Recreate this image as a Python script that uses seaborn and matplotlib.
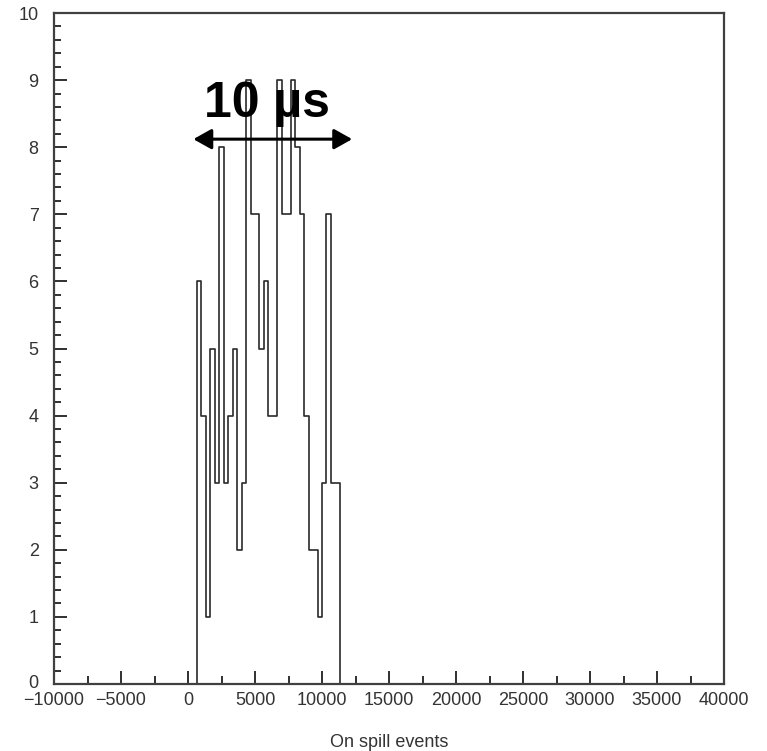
import numpy as np
import pandas as pd
import matplotlib
matplotlib.use("Agg")
import matplotlib.pyplot as plt
import matplotlib.transforms as mtransforms
from matplotlib.ticker import MultipleLocator
import seaborn as sns

# Histogram binning: 150 bins over [-10000, 40000]
x_min, x_max, n_bins = -10000, 40000, 150
first_bin = 32  # index of the first filled bin
counts = [6, 4, 1, 5, 3, 8, 3, 4, 5, 2, 3, 9, 7, 7, 5, 6,
          4, 4, 9, 7, 7, 9, 8, 7, 4, 2, 2, 1, 3, 7, 3, 3]

x_ticks = [-10000, -5000, 0, 5000, 10000, 15000, 20000, 25000, 30000, 35000, 40000]
y_ticks = list(range(0, 11))
x_label = "On spill events"
note_text = "10 \u00b5s"
note_span = (400, 12250)   # arrow extent, same units as x
note_y = 8.12

sns.set_style("ticks")
plt.rcParams["font.family"] = ["Liberation Sans", "DejaVu Sans"]

# One entry per event, placed at its bin centre
edges = np.linspace(x_min, x_max, n_bins + 1)
centers = 0.5 * (edges[:-1] + edges[1:])
filled = centers[first_bin:first_bin + len(counts)]
df = pd.DataFrame({"time": np.repeat(filled, counts)})

fig = plt.figure(figsize=(7.67, 7.51), dpi=100)
ax = fig.add_axes([54 / 767, 67 / 751, 670 / 767, 671 / 751])

sns.histplot(data=df, x="time", bins=n_bins, binrange=(x_min, x_max),
             element="step", fill=False, color="#2a2a2a", linewidth=1.2, ax=ax)

ax.set_xlim(x_min, x_max)
ax.set_ylim(0, 10)
ax.set_xticks(x_ticks)
ax.set_yticks(y_ticks)
ax.xaxis.set_minor_locator(MultipleLocator(2500))
ax.yaxis.set_minor_locator(MultipleLocator(0.2))
ax.tick_params(axis="both", which="both", direction="in", color="#202020",
               width=1.3, labelsize=13, labelcolor="#333333")
ax.tick_params(axis="x", which="major", length=9.5, pad=6)
ax.tick_params(axis="x", which="minor", length=5.5)
ax.tick_params(axis="y", which="major", length=9.5, pad=11)
ax.tick_params(axis="y", which="minor", length=5)
for side in ax.spines.values():
    side.set_visible(True)
    side.set_color("#404040")
    side.set_linewidth(1.6)

# Lift the bottom y label slightly so it clears the x labels
fig.canvas.draw()
zero_label = ax.get_yticklabels()[0]
zero_label.set_transform(zero_label.get_transform() +
                         mtransforms.ScaledTranslation(0, 2 / 72, fig.dpi_scale_trans))

ax.set_xlabel(x_label, fontsize=13, color="#333333", labelpad=18)
ax.set_ylabel("")

# Double-headed arrow with bold label above it
ax.annotate("", xy=(note_span[1], note_y), xytext=(note_span[0], note_y),
            arrowprops=dict(arrowstyle="<|-|>,head_length=0.5,head_width=0.28",
                            color="black", lw=2.2,
                            mutation_scale=22, shrinkA=0, shrinkB=0))
ax.text(0.5 * (note_span[0] + note_span[1]) - 400, 8.45, note_text,
        ha="center", va="baseline", fontsize=36, fontweight="bold", color="black")

fig.savefig("out.png", dpi=100, facecolor="white")
